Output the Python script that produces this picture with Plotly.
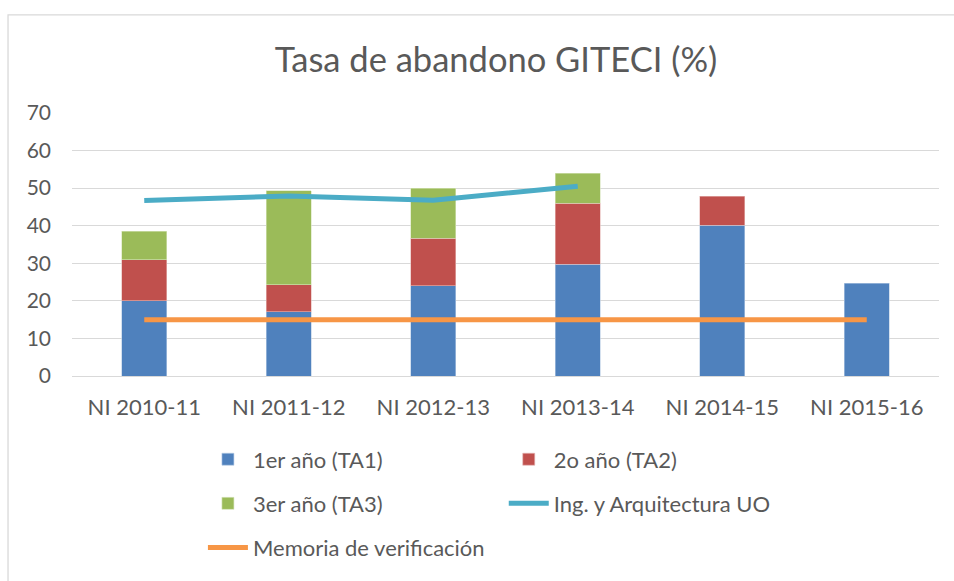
import plotly.graph_objects as go

categories = ["NI 2010-11", "NI 2011-12", "NI 2012-13", "NI 2013-14", "NI 2014-15", "NI 2015-16"]
ta1 = [20.0, 17.1, 24.0, 29.7, 40.1, 24.7]
ta2 = [11.0, 7.2, 12.6, 16.3, 7.7, None]
ta3 = [7.5, 25.0, 13.4, 7.9, None, None]
ing_uo = [46.7, 47.9, 46.8, 50.5, None, None]
memoria = [15, 15, 15, 15, 15, 15]

FONT = "Lato"
TXT = "#595959"

fig = go.Figure()
fig.add_trace(go.Bar(x=categories, y=ta1, name="1er año (TA1)", marker=dict(color="#4F81BD", line=dict(color="#b9cde5", width=0.6)), legend="legend"))
fig.add_trace(go.Bar(x=categories, y=ta2, name="2o año (TA2)", marker=dict(color="#C0504D", line=dict(color="#e6b9b8", width=0.6)), legend="legend2"))
fig.add_trace(go.Bar(x=categories, y=ta3, name="3er año (TA3)", marker=dict(color="#9BBB59", line=dict(color="#d7e4bd", width=0.6)), legend="legend3"))
fig.add_trace(go.Scatter(x=categories, y=ing_uo, name="Ing. y Arquitectura UO", mode="lines", line=dict(color="#4BACC6", width=5), legend="legend4"))
fig.add_trace(go.Scatter(x=categories, y=memoria, name="Memoria de verificación", mode="lines", line=dict(color="#F79646", width=5), legend="legend5"))

T = 113.0
B = 381.0
H = B - T
L = 72.0
W = 867.5

def px(x):
    return (x - L) / W

def py(y):
    return (B - y) / H

leg_common = dict(font=dict(family=FONT, size=22, color=TXT), bgcolor="rgba(0,0,0,0)", yanchor="middle", xanchor="left", itemwidth=40)

fig.update_layout(
    barmode="stack",
    bargap=0.69,
    width=954,
    height=581,
    margin=dict(l=72, r=14.5, t=T, b=581 - B),
    paper_bgcolor="white",
    plot_bgcolor="white",
    font=dict(family=FONT, size=22, color=TXT),
    title=dict(text="Tasa de abandono GITECI (%)", x=0.52, xanchor="center", y=1 - 60 / 581, yanchor="middle",
               font=dict(family=FONT, size=34.5, color=TXT)),
    xaxis=dict(showgrid=False, showline=False, ticks="", tickfont=dict(family=FONT, size=22, color=TXT), ticklabelstandoff=16),
    yaxis=dict(range=[0, 70], dtick=10, showgrid=True, gridcolor="#d9d9d9", gridwidth=1.3, zeroline=True,
               zerolinecolor="#d9d9d9", zerolinewidth=1.3, showline=False, ticks="",
               tickfont=dict(family=FONT, size=21, color=TXT), ticklabelstandoff=20),
    legend=dict(x=px(203), y=py(466), **leg_common),
    legend2=dict(x=px(504), y=py(466), **leg_common),
    legend3=dict(x=px(203), y=py(511), **leg_common),
    legend4=dict(x=px(504), y=py(511), **leg_common),
    legend5=dict(x=px(203), y=py(556), **leg_common),
    showlegend=True,
)

fig.add_shape(type="rect", xref="paper", yref="paper", x0=px(8), x1=px(1100), y0=py(800), y1=py(13),
              line=dict(color="#d9d9d9", width=1.3), fillcolor="rgba(0,0,0,0)", layer="below")

fig.write_html("out.html", config={"displayModeBar": False},
               post_script="document.body.style.margin='0';document.body.style.overflow='hidden';")
